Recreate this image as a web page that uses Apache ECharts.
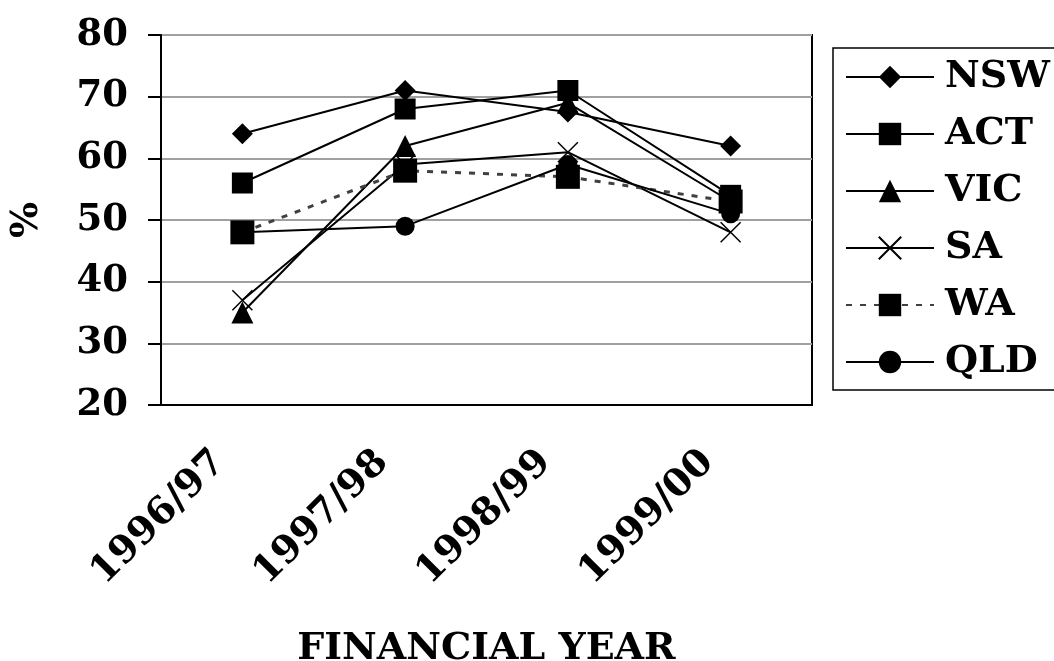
<!DOCTYPE html>
<html>
<head>
<meta charset="utf-8">
<title>Financial year chart</title>
<script src="https://cdn.jsdelivr.net/npm/echarts@6/dist/echarts.min.js"></script>
<style>
	html, body { margin: 0; padding: 0; background: #fff; }
	#main { width: 1054px; height: 661px; }
</style>
</head>
<body>
<div id="main"></div>
<script>
	// values
	var categories = ["1996/97", "1997/98", "1998/99", "1999/00"];
	var nswData = [64, 71, 67.5, 62];
	var actData = [56, 68, 71, 54];
	var vicData = [35, 62, 69, 53];
	var saData = [37, 59, 61, 48];
	var waData = [48, 58, 57, 53];
	var qldData = [48, 49, 59, 51];

	var font = "DejaVu Serif";
	var crossPath = "path://M0,0L10,10M10,0L0,10";

	function solidSeries(name, data, symbol, size) {
		return {
			name: name,
			type: "line",
			data: data,
			symbol: symbol,
			symbolSize: size,
			lineStyle: { color: "#000", width: 2 },
			itemStyle: { color: "#000" }
		};
	}

	var chart = echarts.init(document.getElementById("main"));
	var option = {
		animation: false,
		grid: {
			left: 161,
			right: 242,
			top: 35,
			bottom: 256,
			containLabel: false,
			outerBoundsMode: "none",
			show: true,
			borderColor: "#000",
			borderWidth: 2
		},
		legend: {
			orient: "vertical",
			left: 833,
			top: 48,
			padding: [9, 10, 8, 12],
			borderColor: "#000",
			borderWidth: 1.5,
			itemWidth: 88,
			itemHeight: 28,
			itemGap: 17,
			data: ["NSW", "ACT", "VIC", "SA", "WA", "QLD"],
			textStyle: {
				fontFamily: font,
				fontWeight: "bold",
				fontSize: 38,
				lineHeight: 40,
				color: "#000",
				padding: [0, 0, 0, 6]
			}
		},
		xAxis: {
			type: "category",
			data: categories,
			name: "FINANCIAL YEAR",
			nameLocation: "middle",
			nameGap: 225,
			nameTextStyle: {
				fontFamily: font,
				fontWeight: "bold",
				fontSize: 38,
				color: "#000"
			},
			axisLine: { lineStyle: { color: "#000", width: 2 } },
			axisTick: { length: 12, lineStyle: { color: "#000", width: 2 } },
			axisLabel: {
				rotate: 45,
				margin: 29,
				padding: [0, 32, 0, 0],
				fontFamily: font,
				fontWeight: "bold",
				fontSize: 38,
				color: "#000"
			}
		},
		yAxis: {
			type: "value",
			min: 20,
			max: 80,
			interval: 10,
			name: "%",
			nameLocation: "middle",
			nameGap: 115,
			nameRotate: 90,
			nameTextStyle: {
				fontFamily: font,
				fontWeight: "bold",
				fontSize: 38,
				color: "#000"
			},
			axisLine: { show: true, lineStyle: { color: "#000", width: 2 } },
			axisTick: { show: true, length: 13, lineStyle: { color: "#000", width: 2 } },
			axisLabel: {
				margin: 33,
				fontFamily: font,
				fontWeight: "bold",
				fontSize: 37,
				color: "#000"
			},
			splitLine: { lineStyle: { color: "#a0a0a0", width: 2 } }
		},
		series: [
			solidSeries("NSW", nswData, "diamond", 21),
			solidSeries("ACT", actData, "rect", 21),
			solidSeries("VIC", vicData, "triangle", 22),
			{
				name: "SA",
				type: "line",
				data: saData,
				symbol: crossPath,
				symbolSize: 20,
				lineStyle: { color: "#000", width: 2 },
				itemStyle: { color: "none", borderColor: "#000", borderWidth: 1.5 }
			},
			{
				name: "WA",
				type: "line",
				data: waData,
				symbol: "rect",
				symbolSize: 24,
				lineStyle: { color: "#404040", width: 3, type: [6, 8] },
				itemStyle: { color: "#000" }
			},
			solidSeries("QLD", qldData, "circle", 19)
		]
	};
	chart.setOption(option);
</script>
</body>
</html>
